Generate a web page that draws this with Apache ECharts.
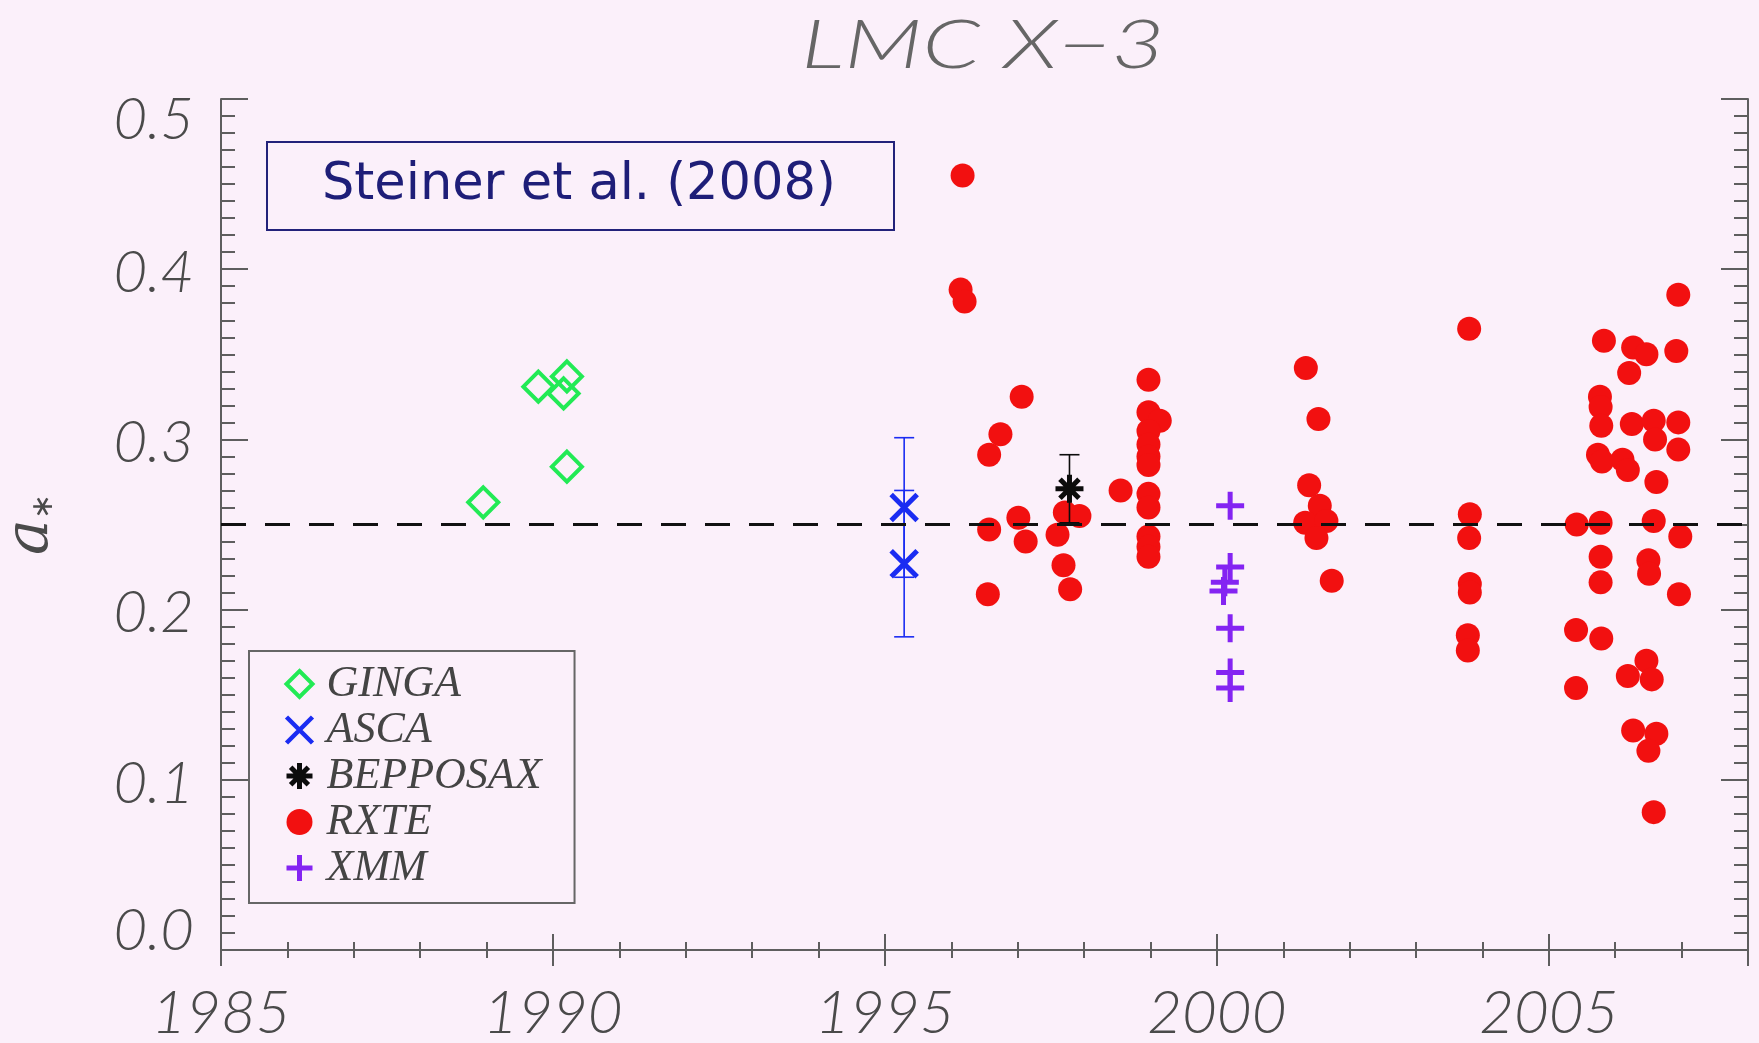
<!DOCTYPE html>
<html>
<head>
<meta charset="utf-8">
<script src="https://cdn.jsdelivr.net/npm/echarts@6/dist/echarts.min.js"></script>
<style>
  html, body { margin: 0; padding: 0; background: #fbf0fa; }
  #chart { width: 1759px; height: 1043px; }
</style>
</head>
<body>
<div id="chart"></div>
<script>
// Spin parameter a* of LMC X-3 by observation epoch, per instrument.
const yearRange = [1985, 2008];
const spinRange = [0, 0.5];
const referenceSpin = 0.25;

// [year, a*]
const gingaPoints = [
  [1988.95, 0.263], [1989.78, 0.331], [1990.21, 0.337], [1990.16, 0.327], [1990.21, 0.284]
];
const ascaPoints = [[1995.29, 0.260], [1995.29, 0.227]];
const ascaErrors = [0.041, 0.043];
const bepposaxPoints = [[1997.78, 0.271]];
const bepposaxErrors = [0.020];
const xmmPoints = [
  [2000.20, 0.261], [2000.20, 0.225], [2000.12, 0.216], [2000.10, 0.211],
  [2000.20, 0.189], [2000.20, 0.163], [2000.20, 0.154]
];
const rxtePoints = [
  [1996.17, 0.455], [1996.14, 0.388], [1996.20, 0.381],
  [1996.57, 0.291], [1996.74, 0.303], [1997.06, 0.325],
  [1996.57, 0.247], [1997.01, 0.254], [1997.12, 0.240], [1996.55, 0.209],
  [1997.60, 0.244], [1997.71, 0.257], [1997.93, 0.255], [1997.69, 0.226], [1997.79, 0.212],
  [1998.55, 0.270],
  [1998.97, 0.335], [1998.97, 0.316], [1999.14, 0.311], [1998.97, 0.305], [1998.97, 0.297],
  [1998.97, 0.290], [1998.97, 0.285], [1998.97, 0.268], [1998.97, 0.260], [1998.97, 0.243],
  [1998.97, 0.237], [1998.97, 0.231],
  [2001.34, 0.342], [2001.53, 0.312], [2001.39, 0.273], [2001.55, 0.261], [2001.33, 0.251],
  [2001.65, 0.252], [2001.50, 0.242], [2001.73, 0.217],
  [2003.80, 0.365], [2003.81, 0.256], [2003.80, 0.242], [2003.81, 0.215], [2003.81, 0.210],
  [2003.78, 0.185], [2003.78, 0.176],
  [2005.42, 0.250], [2005.41, 0.188], [2005.41, 0.154],
  [2005.83, 0.358], [2005.77, 0.325], [2005.78, 0.319], [2005.79, 0.308], [2005.74, 0.291],
  [2005.80, 0.287], [2005.78, 0.251], [2005.78, 0.231], [2005.78, 0.216], [2005.79, 0.183],
  [2006.27, 0.354], [2006.47, 0.350], [2006.21, 0.339], [2006.25, 0.309], [2006.11, 0.288],
  [2006.19, 0.282],
  [2006.58, 0.311], [2006.60, 0.300], [2006.62, 0.275], [2006.58, 0.252], [2006.50, 0.229],
  [2006.51, 0.221],
  [2006.47, 0.170], [2006.19, 0.161], [2006.55, 0.159], [2006.27, 0.129], [2006.62, 0.127],
  [2006.50, 0.117], [2006.58, 0.081],
  [2006.95, 0.385], [2006.92, 0.352], [2006.95, 0.310], [2006.95, 0.294], [2006.98, 0.243],
  [2006.96, 0.209]
];

const BG = '#fbf0fa';
const AXIS_GRAY = '#5e5e5e';
const LABEL_GRAY = '#4a4a4a';
const COLORS = {
  GINGA: '#22ea55',
  ASCA: '#1a2cf2',
  BEPPOSAX: '#0c0c0c',
  RXTE: '#f21010',
  XMM: '#8424f2'
};
const SYMBOLS = {
  cross: 'path://M0,0L10,10M10,0L0,10',
  plus: 'path://M5,0L5,10M0,5L10,5',
  star: 'path://M5,0L5,10M0,5L10,5M1.6,1.6L8.4,8.4M8.4,1.6L1.6,8.4'
};
const hollow = 'rgba(0,0,0,0)';

// [year, low, high] built from value +/- error
function errorRows(points, errors) {
  return points.map((p, i) => [p[0], p[1] - errors[i], p[1] + errors[i]]);
}

function errorBar(color, capHalf) {
  return function (params, api) {
    const x = api.value(0);
    const hi = api.coord([x, api.value(2)]);
    const lo = api.coord([x, api.value(1)]);
    const style = { stroke: color, lineWidth: 1.6 };
    return {
      type: 'group',
      children: [
        { type: 'line', shape: { x1: hi[0], y1: hi[1], x2: lo[0], y2: lo[1] }, style },
        { type: 'line', shape: { x1: hi[0] - capHalf, y1: hi[1], x2: hi[0] + capHalf, y2: hi[1] }, style },
        { type: 'line', shape: { x1: lo[0] - capHalf, y1: lo[1], x2: lo[0] + capHalf, y2: lo[1] }, style }
      ]
    };
  };
}

const tickFont = {
  fontFamily: 'Lato',
  fontStyle: 'italic',
  fontWeight: 300,
  color: LABEL_GRAY
};

function xAxisDef(position, showLabels) {
  return {
    type: 'value',
    position,
    min: yearRange[0],
    max: yearRange[1],
    interval: 5,
    splitLine: { show: false },
    axisLine: { show: true, lineStyle: { color: AXIS_GRAY, width: 2 } },
    axisTick: { show: true, inside: true, length: 16, lineStyle: { color: AXIS_GRAY, width: 2 } },
    minorTick: { show: true, splitNumber: 5, length: 8, lineStyle: { color: AXIS_GRAY, width: 2 } },
    axisLabel: {
      show: showLabels,
      showMaxLabel: false,
      margin: 34,
      fontSize: 60,
      ...tickFont,
      formatter: v => String(v)
    }
  };
}

function yAxisDef(position, showLabels) {
  const base = { fontSize: 58, ...tickFont };
  return {
    type: 'value',
    position,
    min: spinRange[0],
    max: spinRange[1],
    interval: 0.1,
    splitLine: { show: false },
    axisLine: { show: true, lineStyle: { color: AXIS_GRAY, width: 2 } },
    axisTick: { show: true, inside: true, length: 27, lineStyle: { color: AXIS_GRAY, width: 2 } },
    minorTick: { show: true, splitNumber: 10, length: 14, lineStyle: { color: AXIS_GRAY, width: 2 } },
    axisLabel: {
      show: showLabels,
      margin: 27,
      ...base,
      formatter: v => {
        const s = v.toFixed(1);
        if (v <= spinRange[0] + 1e-9) return '{lo|' + s + '}';
        if (v >= spinRange[1] - 1e-9) return '{hi|' + s + '}';
        return '{mid|' + s + '}';
      },
      rich: {
        lo: { ...base, padding: [0, 0, 38, 0] },
        hi: { ...base, padding: [42, 0, 0, 0] },
        mid: { ...base, padding: [8, 0, 0, 0] }
      }
    }
  };
}

const yLeft = yAxisDef('left', true);
yLeft.name = '{a|a}{s|\u2217}';
yLeft.nameLocation = 'middle';
yLeft.nameGap = 160;
yLeft.nameTextStyle = {
  rich: {
    a: { fontFamily: 'DejaVu Serif', fontStyle: 'italic', fontSize: 60, color: LABEL_GRAY },
    s: { fontFamily: 'DejaVu Sans', fontSize: 30, color: LABEL_GRAY, padding: [26, 0, 0, 0] }
  }
};

const chart = echarts.init(document.getElementById('chart'), null, { renderer: 'canvas' });

chart.setOption({
  backgroundColor: BG,
  animation: false,
  title: [
    {
      text: 'Steiner et al. (2008)',
      left: 267,
      top: 142,
      padding: [12, 58, 12, 55],
      backgroundColor: BG,
      borderColor: '#22227a',
      borderWidth: 2,
      textStyle: {
        fontFamily: 'DejaVu Sans',
        fontWeight: 'normal',
        fontSize: 51,
        lineHeight: 64,
        color: '#1e1e78'
      }
    }
  ],
  graphic: [
    {
      // plot title, stretched horizontally for the wide vector-font look
      type: 'text',
      x: 983,
      y: 46,
      scaleX: 1.36,
      style: {
        text: 'LMC X\u22123',
        fontFamily: 'Lato',
        fontStyle: 'italic',
        fontWeight: 300,
        fontSize: 68,
        fill: '#666666',
        align: 'center',
        verticalAlign: 'middle'
      }
    }
  ],
  legend: {
    orient: 'vertical',
    left: 249,
    top: 651,
    padding: [11, 33, 13, 35],
    itemWidth: 26,
    itemHeight: 26,
    itemGap: 2,
    borderColor: '#666',
    borderWidth: 2,
    backgroundColor: BG,
    selectedMode: false,
    textStyle: {
      fontFamily: 'Liberation Serif',
      fontStyle: 'italic',
      fontSize: 44,
      lineHeight: 44,
      color: '#444',
      padding: [0, 0, 0, 9]
    },
    data: [
      { name: 'GINGA', icon: 'diamond', itemStyle: { color: hollow, borderColor: COLORS.GINGA, borderWidth: 4, opacity: 1 } },
      { name: 'ASCA', icon: SYMBOLS.cross, itemStyle: { color: hollow, borderColor: COLORS.ASCA, borderWidth: 4.5, opacity: 1 } },
      { name: 'BEPPOSAX', icon: SYMBOLS.star, itemStyle: { color: hollow, borderColor: COLORS.BEPPOSAX, borderWidth: 5, opacity: 1 } },
      { name: 'RXTE', icon: 'circle', itemStyle: { color: COLORS.RXTE, borderWidth: 0, opacity: 1 } },
      { name: 'XMM', icon: SYMBOLS.plus, itemStyle: { color: hollow, borderColor: COLORS.XMM, borderWidth: 5, opacity: 1 } }
    ]
  },
  grid: { left: 221, right: 11, top: 99, bottom: 93, containLabel: false, outerBoundsMode: 'none' },
  xAxis: [xAxisDef('bottom', true), xAxisDef('top', false)],
  yAxis: [yLeft, yAxisDef('right', false)],
  series: [
    {
      name: 'GINGA',
      type: 'scatter',
      z: 3,
      symbol: 'diamond',
      symbolSize: 30,
      itemStyle: { color: hollow, borderColor: COLORS.GINGA, borderWidth: 4, opacity: 1 },
      data: gingaPoints
    },
    {
      name: 'RXTE',
      type: 'scatter',
      z: 2,
      symbol: 'circle',
      symbolSize: 24,
      itemStyle: { color: COLORS.RXTE, opacity: 1 },
      data: rxtePoints
    },
    {
      name: 'ASCA errors',
      type: 'custom',
      z: 4,
      renderItem: errorBar(COLORS.ASCA, 10),
      encode: { x: 0, y: [1, 2] },
      data: errorRows(ascaPoints, ascaErrors)
    },
    {
      name: 'ASCA',
      type: 'scatter',
      z: 5,
      symbol: SYMBOLS.cross,
      symbolSize: 26,
      itemStyle: { color: hollow, borderColor: COLORS.ASCA, borderWidth: 5, opacity: 1 },
      data: ascaPoints
    },
    {
      name: 'BEPPOSAX errors',
      type: 'custom',
      z: 4,
      renderItem: errorBar(COLORS.BEPPOSAX, 10),
      encode: { x: 0, y: [1, 2] },
      data: errorRows(bepposaxPoints, bepposaxErrors)
    },
    {
      name: 'BEPPOSAX',
      type: 'scatter',
      z: 5,
      symbol: SYMBOLS.star,
      symbolSize: 28,
      itemStyle: { color: hollow, borderColor: COLORS.BEPPOSAX, borderWidth: 5, opacity: 1 },
      data: bepposaxPoints
    },
    {
      name: 'XMM',
      type: 'scatter',
      z: 6,
      symbol: SYMBOLS.plus,
      symbolSize: 28,
      itemStyle: { color: hollow, borderColor: COLORS.XMM, borderWidth: 5, opacity: 1 },
      data: xmmPoints,
      markLine: {
        silent: true,
        symbol: ['none', 'none'],
        label: { show: false },
        lineStyle: { color: '#111', width: 3, type: [25, 19], opacity: 1 },
        data: [{ yAxis: referenceSpin }]
      }
    }
  ]
});
</script>
</body>
</html>
